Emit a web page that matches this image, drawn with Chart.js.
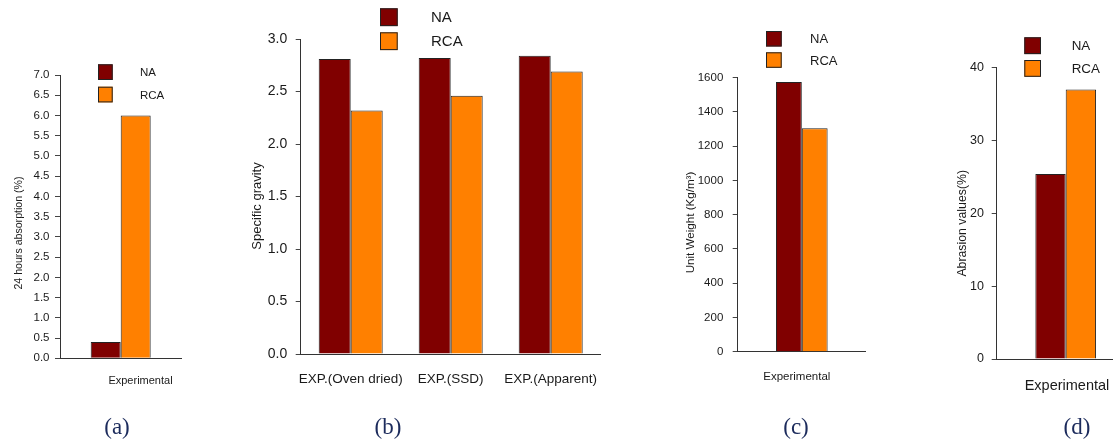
<!DOCTYPE html>
<html>
<head>
<meta charset="utf-8">
<script src="https://cdn.jsdelivr.net/npm/chart.js@4.4.1/dist/chart.umd.min.js"></script>
<style>
  html, body { margin: 0; padding: 0; background: #fff; width: 1113px; height: 441px; overflow: hidden; position: relative; }
  canvas { position: absolute; left: 0; top: 0; }
  .cap { position: absolute; top: 414px; line-height: 26px; font-family: "Liberation Serif", serif; font-size: 23px; color: #1c2b5c; transform: translateX(-50%); }
</style>
</head>
<body>
<canvas id="chartA" width="1160" height="441"></canvas>
<canvas id="chartB" width="1160" height="441"></canvas>
<canvas id="chartC" width="1160" height="441"></canvas>
<canvas id="chartD" width="1160" height="441"></canvas>
<div class="cap" style="left:117px">(a)</div>
<div class="cap" style="left:388px">(b)</div>
<div class="cap" style="left:796px">(c)</div>
<div class="cap" style="left:1077px">(d)</div>
<script>
// --- data ---
const seriesNames = ["NA", "RCA"];
const expLabels = ["Experimental"];
const gravityLabels = ["EXP.(Oven dried)", "EXP.(SSD)", "EXP.(Apparent)"];

const naAbsorption = [0.4];
const rcaAbsorption = [6.0];
const naGravity = [2.81, 2.82, 2.84];
const rcaGravity = [2.32, 2.46, 2.69];
const naUnitWeight = [1575];
const rcaUnitWeight = [1305];
const naAbrasion = [25.4];
const rcaAbrasion = [37.0];

const NA_COLOR = "#800000";
const RCA_COLOR = "#ff8000";
const FONT = '"Liberation Sans", Arial, sans-serif';
const CW = 1160, CH = 441;

// legend as two stacked boxes with the names to the right
const legendBoxes = {
  id: "legendBoxes",
  afterDraw(chart, args, o) {
    const ctx = chart.ctx;
    chart.data.datasets.forEach((ds, i) => {
      const y = o.ys[i];
      ctx.save();
      ctx.fillStyle = ds.backgroundColor;
      ctx.fillRect(o.x, y, o.w, o.h);
      ctx.strokeStyle = "#222";
      ctx.lineWidth = 1;
      ctx.strokeRect(o.x + 0.5, y + 0.5, o.w - 1, o.h - 1);
      ctx.fillStyle = "#1a1a1a";
      ctx.font = o.size + "px " + FONT;
      ctx.textBaseline = "middle";
      ctx.fillText(ds.label, o.tx, y + o.h / 2 + 1);
      ctx.restore();
    });
  },
};

// rotated y title
const sideTitle = {
  id: "sideTitle",
  afterDraw(chart, args, o) {
    const ctx = chart.ctx;
    ctx.save();
    ctx.translate(o.x, o.y);
    ctx.rotate(-Math.PI / 2);
    ctx.fillStyle = "#1a1a1a";
    ctx.font = o.size + "px " + FONT;
    ctx.textAlign = "center";
    ctx.textBaseline = "middle";
    ctx.fillText(o.text, 0, 0);
    ctx.restore();
  },
};

function panel(id, p) {
  const yW = 60, xH = 40;
  return new Chart(document.getElementById(id), {
    type: "bar",
    data: {
      labels: p.labels,
      datasets: [
        { label: seriesNames[0], data: p.na, backgroundColor: NA_COLOR, borderColor: "#222", borderWidth: 1 },
        { label: seriesNames[1], data: p.rca, backgroundColor: RCA_COLOR, borderColor: "#222", borderWidth: 1 },
      ],
    },
    options: {
      responsive: false,
      animation: false,
      layout: {
        padding: { left: p.area[0] - yW, top: p.area[1], right: CW - p.area[2], bottom: CH - p.area[3] - xH },
      },
      datasets: { bar: { categoryPercentage: p.cat, barPercentage: 1 } },
      plugins: {
        legend: { display: false },
        tooltip: { enabled: false },
        legendBoxes: p.legend,
        sideTitle: p.title,
      },
      scales: {
        x: {
          afterFit: (s) => { s.height = xH; },
          grid: { display: false },
          border: { display: true, color: "#333", width: 1 },
          ticks: {
            color: "#1a1a1a",
            font: { family: FONT, size: p.xFont },
            padding: p.xPad,
            labelOffset: p.xOff || 0,
            maxRotation: 0,
            autoSkip: false,
          },
        },
        y: {
          min: 0,
          max: p.max,
          afterFit: (s) => { s.width = yW; },
          grid: { drawOnChartArea: false, drawTicks: true, tickLength: 5, color: "#444" },
          border: { display: true, color: "#333", width: 1 },
          ticks: {
            stepSize: p.step,
            color: "#1a1a1a",
            font: { family: FONT, size: p.yFont },
            padding: p.yPad,
            callback: p.fmt,
          },
        },
      },
    },
    plugins: [legendBoxes, sideTitle],
  });
}

const oneDec = (v) => Number(v).toFixed(1);

panel("chartA", {
  labels: expLabels, na: naAbsorption, rca: rcaAbsorption,
  area: [60, 75, 181.4, 358.3], cat: 0.494, max: 7, step: 0.5, fmt: oneDec,
  yFont: 11.5, yPad: 5.5, xFont: 11, xPad: 8.4, xOff: 19.8,
  legend: { x: 98, ys: [64.3, 86.7], w: 14.7, h: 15.7, tx: 140, size: 11.5 },
  title: { text: "24 hours absorption (%)", x: 19, y: 233, size: 10.6 },
});

panel("chartB", {
  labels: gravityLabels, na: naGravity, rca: rcaGravity,
  area: [300.7, 39, 600.7, 354], cat: 0.64, max: 3, step: 0.5, fmt: oneDec,
  yFont: 14, yPad: 8.4, xFont: 13.5, xPad: 9.6,
  legend: { x: 380, ys: [8.3, 32.3], w: 17.7, h: 17.8, tx: 431, size: 15 },
  title: { text: "Specific gravity", x: 257, y: 206, size: 13 },
});

panel("chartC", {
  labels: expLabels, na: naUnitWeight, rca: rcaUnitWeight,
  area: [737.7, 77.7, 865.9, 351.7], cat: 0.403, max: 1600, step: 200,
  yFont: 11.5, yPad: 9.4, xFont: 11.5, xPad: 10.7, xOff: -5,
  legend: { x: 766, ys: [31, 52.3], w: 15.7, h: 15.5, tx: 810, size: 13 },
  title: { text: "Unit Weight (Kg/m³)", x: 691, y: 222.5, size: 11.6 },
});

panel("chartD", {
  labels: expLabels, na: naAbrasion, rca: rcaAbrasion,
  area: [996.7, 67.7, 1134.7, 359], cat: 0.44, max: 40, step: 10,
  yFont: 12.5, yPad: 7.7, xFont: 14.5, xPad: 10.6, xOff: 1.3,
  legend: { x: 1024.3, ys: [37.3, 60], w: 16.7, h: 16.8, tx: 1071.7, size: 13.4 },
  title: { text: "Abrasion values(%)", x: 962.3, y: 223.3, size: 12.3 },
});
</script>
</body>
</html>
